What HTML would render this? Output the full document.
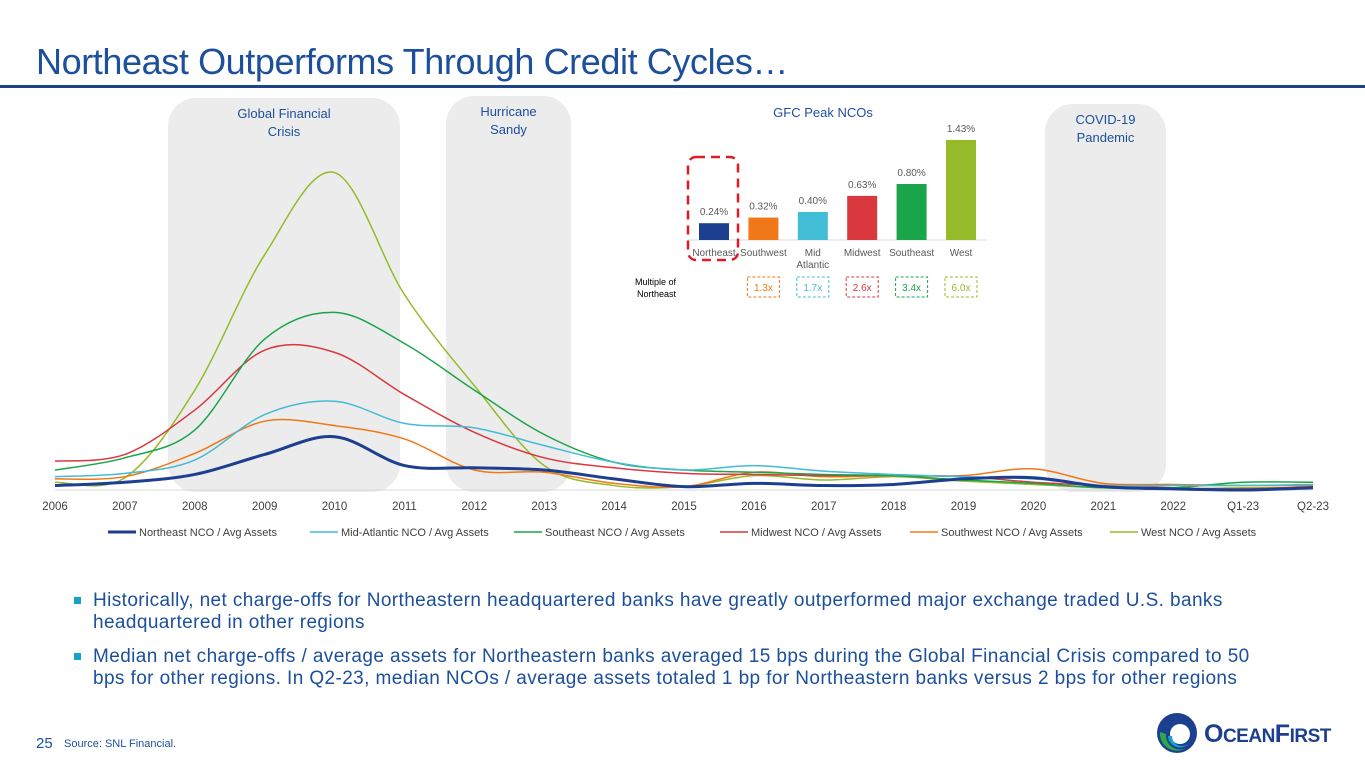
<!DOCTYPE html>
<html><head><meta charset="utf-8"><style>
body{margin:0;width:1365px;height:768px;background:#fff;font-family:"Liberation Sans",sans-serif;position:relative;overflow:hidden}
.abs{position:absolute}
</style></head><body>
<div class="abs" style="left:36px;top:41px;font-size:36px;color:#1c4f9c;letter-spacing:-0.4px">Northeast Outperforms Through Credit Cycles…</div>
<div class="abs" style="left:0;top:85px;width:1365px;height:3px;background:#1c4587"></div>
<svg class="abs" style="left:0;top:0" width="1365" height="560" id="chart"></svg>
<div class="abs" style="left:74px;top:590px;width:1178px;font-size:19px;letter-spacing:0.4px;color:#1c4f9c;line-height:22px">
<div style="position:relative;padding-left:19px;margin-bottom:12px"><span style="position:absolute;left:0;top:7px;width:7px;height:7px;background:#17a2c8"></span>Historically, net charge-offs for Northeastern headquartered banks have greatly outperformed major exchange traded U.S. banks headquartered in other regions</div>
<div style="position:relative;padding-left:19px"><span style="position:absolute;left:0;top:7px;width:7px;height:7px;background:#17a2c8"></span>Median net charge-offs / average assets for Northeastern banks averaged 15 bps during the Global Financial Crisis compared to 50 bps for other regions. In Q2-23, median NCOs / average assets totaled 1 bp for Northeastern banks versus 2 bps for other regions</div>
</div>
<div class="abs" style="left:36px;top:735px;font-size:15px;color:#1c4f9c">25</div>
<div class="abs" style="left:64px;top:738px;font-size:11px;color:#1c4f9c">Source: SNL Financial.</div>
<div class="abs" style="left:1156px;top:712px;width:200px;height:42px">
<svg width="44" height="42" style="position:absolute;left:0;top:0"><circle cx="21" cy="21" r="20" fill="#1c3f8f"/><circle cx="24" cy="22" r="10" fill="#fff"/><path d="M4 20 A17 17 0 0 0 30 36 A14 14 0 0 1 10 22 Z" fill="#2aa84a"/><path d="M12 24 A12 12 0 0 0 34 30 A10 10 0 0 1 16 24 Z" fill="#17a2c8"/></svg>
<div style="position:absolute;left:48px;top:8px;font-size:25px;font-weight:bold;color:#1c3f8f;letter-spacing:-0.5px">O<span style="font-size:19px">CEAN</span>F<span style="font-size:19px">IRST</span></div>
</div>
<script>
const cats=["2006","2007","2008","2009","2010","2011","2012","2013","2014","2015","2016","2017","2018","2019","2020","2021","2022","Q1-23","Q2-23"];
const northeast=[0.02,0.035,0.07,0.16,0.24,0.11,0.10,0.09,0.05,0.015,0.03,0.02,0.025,0.05,0.055,0.015,0.005,0,0.01];
const midAtlantic=[0.06,0.075,0.135,0.34,0.40,0.30,0.28,0.20,0.125,0.09,0.11,0.085,0.07,0.06,0.05,0.02,0.02,0.02,0.025];
const southeast=[0.09,0.145,0.27,0.68,0.80,0.66,0.45,0.25,0.125,0.09,0.08,0.07,0.065,0.045,0.03,0.01,0.01,0.035,0.035];
const midwest=[0.13,0.16,0.36,0.63,0.62,0.43,0.26,0.145,0.10,0.075,0.07,0.065,0.065,0.06,0.035,0.02,0.01,0.005,0.015];
const southwest=[0.05,0.06,0.165,0.31,0.29,0.23,0.09,0.08,0.03,0.015,0.08,0.06,0.065,0.065,0.095,0.03,0.025,0.02,0.02];
const west=[0.035,0.055,0.45,1.06,1.43,0.88,0.47,0.11,0.02,0.015,0.065,0.045,0.06,0.04,0.025,0.01,0.005,0.01,0.01];
const seriesNames=["Northeast NCO / Avg Assets","Mid-Atlantic NCO / Avg Assets","Southeast NCO / Avg Assets","Midwest NCO / Avg Assets","Southwest NCO / Avg Assets","West NCO / Avg Assets"];
const barCats=["Northeast","Southwest","Mid\nAtlantic","Midwest","Southeast","West"];
const barVals=[0.24,0.32,0.40,0.63,0.80,1.43];
const multiples=["","1.3x","1.7x","2.6x","3.4x","6.0x"];

const svg=document.getElementById('chart');const NS="http://www.w3.org/2000/svg";
function el(t,a,p){const e=document.createElementNS(NS,t);for(const k in a)e.setAttribute(k,a[k]);(p||svg).appendChild(e);return e;}
function tx(x,y,s,a){const e=el('text',Object.assign({x:x,y:y,'font-family':'Liberation Sans, sans-serif'},a));e.textContent=s;return e;}
const X=i=>55+i*(1313-55)/(cats.length-1);
const Y=v=>490-v*222;
const bands=[[168,98,232,"Global Financial","Crisis"],[446,96,125,"Hurricane","Sandy"],[1045,104,121,"COVID-19","Pandemic"]];
bands.forEach(b=>{const r=el('rect',{x:b[0],y:b[1],width:b[2],height:492-b[1],rx:28,fill:'#ececec'});


const c=b[0]+b[2]/2;tx(c,b[1]+20,b[3],{'text-anchor':'middle','font-size':13,fill:'#1c4f9c'});tx(c,b[1]+38,b[4],{'text-anchor':'middle','font-size':13,fill:'#1c4f9c'});});
el('line',{x1:55,x2:1313,y1:490,y2:490,stroke:'#d9d9d9'});
cats.forEach((c,i)=>{const t=tx(X(i),510,c,{'text-anchor':'middle','font-size':11.5,fill:'#404040'});

});
const colors=["#1c3f8f","#43bcd6","#1aa54a","#d9383e","#f07818","#95bb2a"];
const data=[northeast,midAtlantic,southeast,midwest,southwest,west];
function path(vals){const p=vals.map((v,i)=>[X(i),Y(v)]);let d=`M${p[0][0]},${p[0][1]}`;
for(let i=0;i<p.length-1;i++){const p0=p[i-1]||p[i],p1=p[i],p2=p[i+1],p3=p[i+2]||p2;
d+=` C${p1[0]+(p2[0]-p0[0])/6},${p1[1]+(p2[1]-p0[1])/6} ${p2[0]-(p3[0]-p1[0])/6},${p2[1]-(p3[1]-p1[1])/6} ${p2[0]},${p2[1]}`;}return d;}
[5,4,3,2,1,0].forEach(k=>{const l=el('path',{d:path(data[k]),fill:'none',stroke:colors[k],'stroke-width':k==0?3:1.5});

});
const lx=[108,310,514,720,910,1110];
seriesNames.forEach((s,i)=>{el('line',{x1:lx[i],x2:lx[i]+28,y1:532,y2:532,stroke:colors[i],'stroke-width':i==0?3:1.5});
const t=tx(lx[i]+31,536,s,{'font-size':11,fill:'#404040'});

});
tx(823,117,"GFC Peak NCOs",{'text-anchor':'middle','font-size':13,fill:'#1c4f9c'});
el('line',{x1:688,x2:987,y1:240,y2:240,stroke:'#d9d9d9'});
const bx=i=>714+i*49.4, by=v=>240-v*70;
barCats.forEach((c,i)=>{const r=el('rect',{x:bx(i)-15,y:by(barVals[i]),width:30,height:240-by(barVals[i]),fill:colors[[0,4,1,3,2,5][i]]});


tx(bx(i),by(barVals[i])-8,barVals[i].toFixed(2)+'%',{'text-anchor':'middle','font-size':10,fill:'#595959'});
c.split('\n').forEach((s,j)=>tx(bx(i),256+j*12,s,{'text-anchor':'middle','font-size':10,fill:'#595959'}));
if(multiples[i]){const mc=colors[[0,4,1,3,2,5][i]];el('rect',{x:bx(i)-16,y:277,width:32,height:20,fill:'none',stroke:mc,'stroke-dasharray':'3,2','stroke-width':1});
tx(bx(i),291,multiples[i],{'text-anchor':'middle','font-size':10,fill:mc});}});
el('rect',{x:688,y:157,width:50,height:103,rx:8,fill:'none',stroke:'#e21a23','stroke-width':2.5,'stroke-dasharray':'9,6'});
tx(676,285,"Multiple of",{'text-anchor':'end','font-size':9,fill:'#000'});
tx(676,297,"Northeast",{'text-anchor':'end','font-size':9,fill:'#000'});
</script>
</body></html>
